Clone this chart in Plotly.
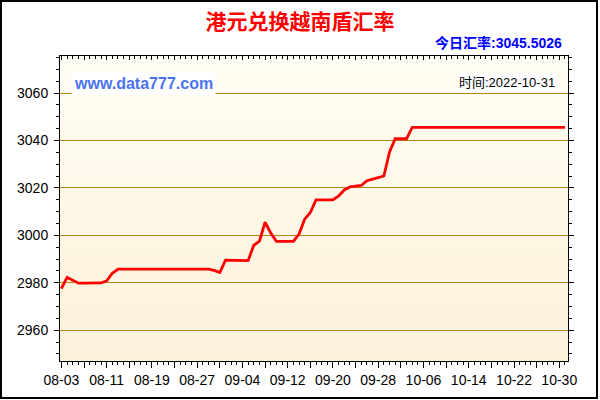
import plotly.graph_objects as go
import pandas as pd

# daily HKD -> VND rate, 2022-08-03 .. 2022-10-31
start_date = '2022-08-03'
rates = [
    2977.5, 2982.3, 2981.1, 2979.8, 2979.8, 2979.8, 2979.8, 2979.9, 2980.8, 2984.0,
    2985.7, 2985.7, 2985.7, 2985.7, 2985.7, 2985.7, 2985.7, 2985.7, 2985.7, 2985.7,
    2985.7, 2985.7, 2985.7, 2985.7, 2985.7, 2985.7, 2985.7, 2985.2, 2984.3, 2989.5,
    2989.5, 2989.5, 2989.4, 2989.3, 2995.8, 2997.5, 3005.5, 3001.0, 2997.4, 2997.4,
    2997.4, 2997.4, 3000.5, 3006.8, 3009.6, 3014.9, 3014.9, 3014.9, 3014.9, 3016.6,
    3019.1, 3020.4, 3020.6, 3021.0, 3023.0, 3023.8, 3024.3, 3025.0, 3035.1, 3040.7,
    3040.7, 3040.7, 3045.5, 3045.5, 3045.5, 3045.5, 3045.5, 3045.5, 3045.5, 3045.5,
    3045.5, 3045.5, 3045.5, 3045.5, 3045.5, 3045.5, 3045.5, 3045.5, 3045.5, 3045.5,
    3045.5, 3045.5, 3045.5, 3045.5, 3045.5, 3045.5, 3045.5, 3045.5, 3045.5, 3045.5026,
]
dates = pd.date_range(start_date, periods=len(rates), freq='D')

x_labels = ['08-03', '08-11', '08-19', '08-27', '09-04', '09-12',
            '09-20', '09-28', '10-06', '10-14', '10-22', '10-30']
y_ticks = [2960, 2980, 3000, 3020, 3040, 3060]

title_text = '港元兑换越南盾汇率'
today_text = '今日汇率:3045.5026'
site_text = 'www.data777.com'
time_text = '时间:2022-10-31'

# ticks every 4 days, label on every second one
tick_dates = pd.date_range(start_date, periods=2 * len(x_labels) - 1, freq='4D')
tick_text = []
for i in range(len(tick_dates)):
    tick_text.append(x_labels[i // 2] if i % 2 == 0 else '')

x_range = ['2022-08-02 18:00', '2022-10-31 13:00']
y_range = [2947, 3075.6]

W, H = 600, 400
L, R, T, B = 60, 32, 56, 39
pw, ph = W - L - R, H - T - B

def px_x(x):
    return (x - L) / pw

def px_y(y):
    return (H - B - y) / ph

font_lat = 'Liberation Sans, Arial, Noto Sans CJK SC'

fig = go.Figure()
fig.add_trace(go.Scatter(x=dates, y=rates, mode='lines',
                         line=dict(color='#ff0000', width=2.8),
                         hoverinfo='skip', showlegend=False))
# dummy trace so the top axis gets drawn
fig.add_trace(go.Scatter(x=[dates[0]], y=[rates[0]], xaxis='x2', mode='markers',
                         marker=dict(opacity=0), hoverinfo='skip', showlegend=False))

# vertical gradient of the plot background
shapes = []
n_bands = 40
top_c, bot_c = (255, 254, 244), (252, 241, 217)
for i in range(n_bands):
    f = (i + 0.5) / n_bands
    c = tuple(round(top_c[k] + (bot_c[k] - top_c[k]) * f) for k in range(3))
    shapes.append(dict(type='rect', xref='paper', yref='paper',
                       x0=0, x1=1, y0=1 - (i + 1) / n_bands, y1=1 - i / n_bands + 0.002,
                       fillcolor='rgb(%d,%d,%d)' % c, line=dict(width=0), layer='below'))
# outer frame
shapes.append(dict(type='rect', xref='paper', yref='paper',
                   x0=px_x(1), x1=px_x(597), y0=px_y(398), y1=px_y(1),
                   line=dict(color='black', width=2), fillcolor='rgba(0,0,0,0)'))

fig.update_layout(
    width=W, height=H,
    margin=dict(l=L, r=R, t=T, b=B),
    paper_bgcolor='white',
    plot_bgcolor='rgba(0,0,0,0)',
    shapes=shapes,
    title=dict(text='<b>' + title_text + '</b>', x=0.5, xref='container', xanchor='center',
               y=1 - 22 / H, yref='container', yanchor='middle',
               font=dict(family='Noto Sans CJK SC', size=21, color='#ff0000')),
    xaxis=dict(type='date', range=x_range, tickmode='array', tickvals=tick_dates,
               ticktext=tick_text, ticks='outside', ticklen=6, tickcolor='black',
               showline=True, linecolor='black', linewidth=1, showgrid=False,
               zeroline=False, tickfont=dict(family=font_lat, size=14, color='black'),
               minor=dict(dtick=86400000, tick0=start_date, ticks='outside',
                          ticklen=3, tickcolor='black', showgrid=False)),
    xaxis2=dict(type='date', range=x_range, overlaying='x', side='top',
                tickmode='array', tickvals=tick_dates, showticklabels=False,
                ticks='inside', ticklen=4, tickcolor='black',
                showline=True, linecolor='black', linewidth=1, showgrid=False,
                zeroline=False,
                minor=dict(dtick=86400000, tick0=start_date, ticks='inside',
                           ticklen=3, tickcolor='black', showgrid=False)),
    yaxis=dict(range=y_range, tickmode='array', tickvals=y_ticks,
               ticks='outside', ticklen=5, tickcolor='black', mirror='ticks',
               showline=True, linecolor='black', linewidth=1,
               showgrid=True, gridcolor='#b8860b', gridwidth=1, zeroline=False,
               ticklabelstandoff=3,
               tickfont=dict(family=font_lat, size=14, color='black'),
               minor=dict(dtick=5, tick0=2960, ticks='outside', ticklen=3,
                          tickcolor='black', showgrid=False)),
    annotations=[
        dict(text='<b>' + today_text + '</b>', xref='paper', yref='paper',
             x=px_x(564), y=px_y(43), xanchor='right', yanchor='middle', showarrow=False,
             font=dict(family=font_lat, size=14, color='#0000ff')),
        dict(text='<b>' + site_text + '</b>', xref='paper', yref='paper',
             x=px_x(71), y=px_y(84), xanchor='left', yanchor='middle', showarrow=False,
             bgcolor='white', borderpad=2,
             font=dict(family=font_lat, size=16, color='#4a72f0')),
        dict(text=time_text, xref='paper', yref='paper',
             x=px_x(557), y=px_y(82), xanchor='right', yanchor='middle', showarrow=False,
             bgcolor='white', borderpad=1,
             font=dict(family=font_lat, size=13, color='black')),
    ],
)

fig.write_html('out.html', config={'displayModeBar': False},
               post_script="document.body.style.margin='0';")
